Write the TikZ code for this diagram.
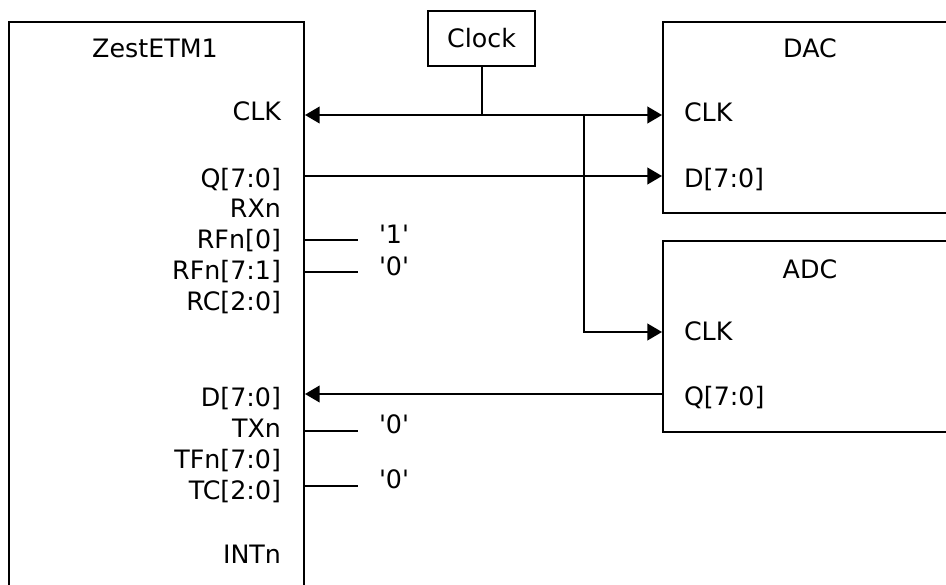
\documentclass[tikz,border=0pt]{standalone}
\usepackage{fontspec}
\setmainfont{DejaVu Sans}
\usetikzlibrary{arrows.meta,positioning}
\tikzset{
  every picture/.style={line width=1.5pt, line cap=butt,
    >={Triangle[length=11pt,width=12.5pt]}},
  every node/.style={font=\fontsize{19}{22}\selectfont},
  % Bausteine
  blk/.style={draw, rectangle, anchor=north west, inner sep=0pt},
  % Beschriftung
  title/.style={anchor=base},
  pinl/.style={anchor=base east, inner sep=0pt},
  pinr/.style={anchor=base west, inner sep=0pt},
  const/.style={anchor=base west, inner sep=0pt},
  % Leitungen
  tie/.style={line width=1.2pt},
}
\newcommand{\sq}{\textquotesingle}
\begin{document}
\begin{tikzpicture}[x=0.75pt, y=-0.75pt]
  \useasboundingbox (0,0) rectangle (946,585);
  \clip (0,0) rectangle (946,585);
  % Bausteine
  \node[blk, minimum width=221.25pt, minimum height=450pt] (etm) at (8,21) {};
  \node[blk, minimum width=300pt, minimum height=143.25pt] (dac) at (662,21) {};
  \node[blk, minimum width=300pt, minimum height=143.25pt] (adc) at (662,240) {};
  \node[draw, minimum width=80.25pt, minimum height=41.25pt, inner sep=0pt] (clock) at (481.5,38.5) {Clock};
  % Namen
  \node[title] (etm-name) at (155,58) {ZestETM1};
  \node[title] (dac-name) at (810,58) {DAC};
  \node[title] (adc-name) at (810,278) {ADC};
  % Anschluesse
  \foreach \name/\y/\txt in {clk/121/CLK, q/187/Q[7:0], rx/217/RXn, rf0/248/RFn[0],
      rf71/279/RFn[7:1], rc/310/RC[2:0], d/406/D[7:0], tx/437/TXn, tf/468/TFn[7:0],
      tc/499/TC[2:0], int/563/INTn}
    \node[pinl] (etm-\name) at (282,\y) {\txt};
  \foreach \name/\y/\txt in {clk/122/CLK, d/187/D[7:0]}
    \node[pinr] (dac-\name) at (683,\y) {\txt};
  \foreach \name/\y/\txt in {clk/340/CLK, q/405/Q[7:0]}
    \node[pinr] (adc-\name) at (683,\y) {\txt};
  % Leitungen
  \coordinate (w-clk) at (0,115);
  \coordinate (w-q) at (0,176);
  \coordinate (w-adcclk) at (0,332);
  \coordinate (w-d) at (0,394);
  \coordinate (br) at (584,0);
  \coordinate (tie-end) at (358,0);
  \draw[<->] (etm.east |- w-clk) -- (dac.west |- w-clk);
  \draw (clock.south) -- (clock.south |- w-clk);
  \draw[->] (br |- w-clk) -- (br |- w-adcclk) -- (adc.west |- w-adcclk);
  \draw[->] (etm.east |- w-q) -- (dac.west |- w-q);
  \draw[->] (adc.west |- w-d) -- (etm.east |- w-d);
  % feste Pegel
  \foreach \port/\yw/\yb/\val in {rf0/240/243/1, rf71/272/275/0, tx/431/433/0, tc/486/488/0} {
    \coordinate (w-\port) at (0,\yw);
    \draw[tie] (etm.east |- w-\port) -- (tie-end |- w-\port);
    \node[const] (v-\port) at (378,\yb) {\sq\val\sq};
  }
\end{tikzpicture}
\end{document}
